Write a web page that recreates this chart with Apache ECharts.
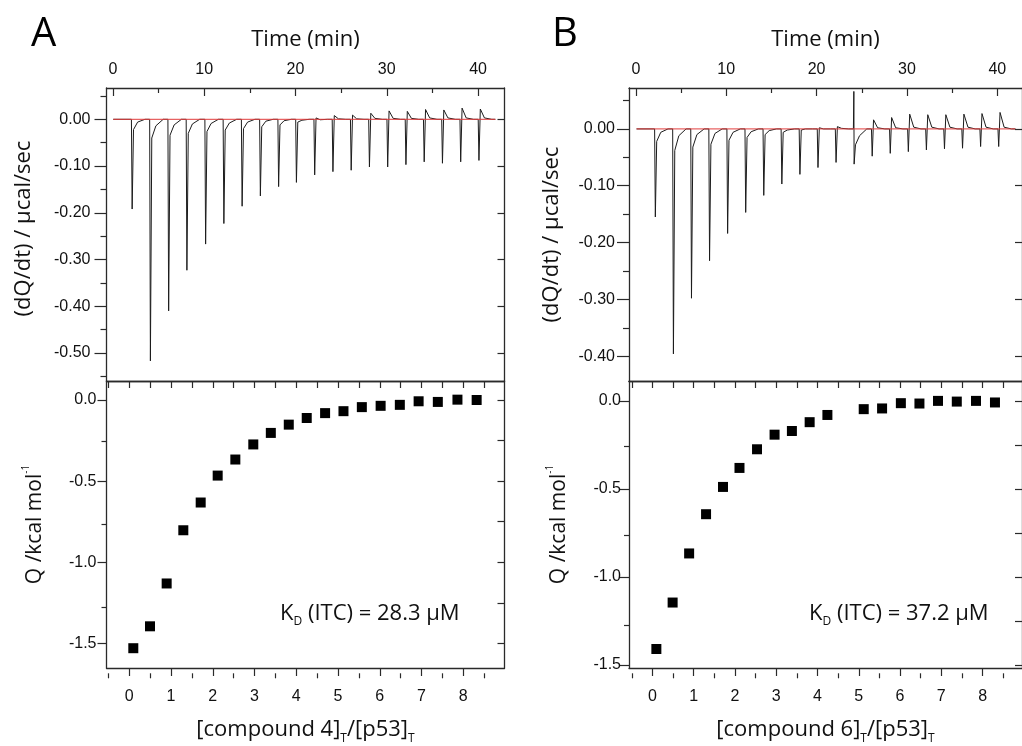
<!DOCTYPE html>
<html><head><meta charset="utf-8">
<script src="https://cdn.jsdelivr.net/npm/echarts@6/dist/echarts.min.js"></script>
<style>html,body{margin:0;padding:0;background:#fff}#c{width:1022px;height:746px}</style>
</head><body><div id="c"></div>
<script>
// ---------- DATA ----------
// Panel A thermogram: injection times (min) and heat-rate readings (µcal/sec)
const injTimeA = [2.1, 4.1, 6.1, 8.1, 10.15, 12.15, 14.15, 16.15, 18.15, 20.1, 22.1, 24.1, 26.1, 28.1, 30.1, 32.1, 34.1, 36.1, 38.1, 40.1];
const preA   = [0, 0, 0, 0, 0, 0, 0, 0, 0, 0, 0, 0, 0, 0, 0, 0, 0, 0, 0, 0];
const peakA  = [-0.192, -0.517, -0.410, -0.323, -0.267, -0.223, -0.186, -0.164, -0.144, -0.135, -0.119, -0.112, -0.109, -0.102, -0.102, -0.097, -0.091, -0.094, -0.091, -0.088];
const afterA = [-0.022, -0.040, -0.034, -0.030, -0.026, -0.023, -0.020, -0.016, -0.012, -0.006, 0.003, 0.008, 0.009, 0.013, 0.018, 0.017, 0.021, 0.020, 0.024, 0.022];
const tailA  = [-0.006, -0.014, -0.012, -0.010, -0.009, -0.008, -0.006, -0.004, -0.003, -0.002, -0.001, 0.001, 0.001, 0.002, 0.002, 0.002, 0.003, 0.003, 0.003, 0.003];
const baseA  = [0.03, 41.9];   // start / end time of recorded baseline

// Panel B thermogram
const injTimeB = [2.15, 4.15, 6.15, 8.15, 10.15, 12.15, 14.15, 16.15, 18.15, 20.15, 22.15, 24.15, 26.15, 28.15, 30.15, 32.15, 34.15, 36.15, 38.15, 40.15];
const preB   = [0, 0, 0, 0, 0, 0, 0, 0, 0, 0, 0, 0.066, 0, 0, 0, 0, 0, 0, 0, 0];
const peakB  = [-0.155, -0.396, -0.298, -0.232, -0.184, -0.147, -0.117, -0.097, -0.080, -0.068, -0.059, -0.062, -0.048, -0.043, -0.040, -0.037, -0.035, -0.034, -0.031, -0.031];
const afterB = [-0.022, -0.038, -0.032, -0.027, -0.020, -0.015, -0.010, -0.006, -0.002, 0.002, 0.004, -0.028, 0.016, 0.020, 0.026, 0.025, 0.025, 0.026, 0.027, 0.029];
const tailB  = [-0.006, -0.012, -0.010, -0.008, -0.006, -0.005, -0.003, -0.002, 0, 0, 0.001, -0.012, 0.002, 0.002, 0.003, 0.003, 0.003, 0.003, 0.003, 0.003];
const baseB  = [0.07, 42.0];

// Binding isotherms: molar ratio and heat per injection (kcal/mol)
const ratioA = [0.096, 0.496, 0.895, 1.294, 1.71, 2.117, 2.54, 2.97, 3.39, 3.82, 4.25, 4.69, 5.13, 5.57, 6.02, 6.48, 6.93, 7.39, 7.86, 8.32];
const qA     = [-1.530, -1.395, -1.131, -0.803, -0.632, -0.466, -0.367, -0.274, -0.203, -0.152, -0.111, -0.081, -0.069, -0.044, -0.036, -0.030, -0.008, -0.012, 0.002, 0.0];
const ratioB = [0.096, 0.49, 0.89, 1.30, 1.71, 2.11, 2.535, 2.96, 3.38, 3.81, 4.24, 5.12, 5.565, 6.02, 6.47, 6.92, 7.375, 7.84, 8.30];
const qB     = [-1.410, -1.146, -0.867, -0.644, -0.489, -0.381, -0.275, -0.192, -0.171, -0.121, -0.080, -0.047, -0.043, -0.013, -0.015, 0.0, -0.004, 0.0, -0.009];

// Tick values
const timeTicks  = [0, 10, 20, 30, 40];
const timeMinor  = [5, 15, 25, 35];
const ratioTicks = [0, 1, 2, 3, 4, 5, 6, 7, 8];
const ratioMinor = [-0.5, 0.5, 1.5, 2.5, 3.5, 4.5, 5.5, 6.5, 7.5, 8.5];
const dqTicksA   = [0, -0.1, -0.2, -0.3, -0.4, -0.5];
const dqMinorA   = [0.05, -0.05, -0.15, -0.25, -0.35, -0.45, -0.55];
const dqTicksB   = [0, -0.1, -0.2, -0.3, -0.4];
const dqMinorB   = [0.05, -0.05, -0.15, -0.25, -0.35];
const qTicks     = [0, -0.5, -1.0, -1.5];
const qMinor     = [-0.25, -0.75, -1.25];
const kdA = '28.3', kdB = '37.2';
const compA = '4', compB = '6';

// ---------- CHART ----------
const chart = echarts.init(document.getElementById('c'), null, {renderer: 'canvas', width: 1022, height: 746});
const INK = '#1c1c1c';
const LBL = {fontFamily: '"Liberation Sans", Arial, sans-serif', fontSize: 16, color: '#111'};
const TTL = '"Open Sans", sans-serif';
const AL = {show: true, onZero: false, lineStyle: {color: '#2a2a2a', width: 1.3}};
const grids = [], xAxes = [], yAxes = [], series = [], graphics = [];

function tick(vals, inside, len) {
  return {show: true, inside: inside, length: len, customValues: vals, lineStyle: {color: '#2a2a2a', width: 1.2}};
}
function grid(left, top, width, height) { grids.push({left, top, width, height}); return grids.length - 1; }
function axisBase(o) {
  return Object.assign({type: 'value', scale: true, splitLine: {show: false}, axisLine: {show: false, onZero: false},
    axisTick: {show: false}, axisLabel: {show: false}, z: 5}, o);
}
function xa(o) { xAxes.push(axisBase(o)); return xAxes.length - 1; }
function ya(o) { yAxes.push(axisBase(o)); return yAxes.length - 1; }

function buildTrace(times, pre, peak, after, tail, base) {
  const pts = [[base[0], 0]];
  for (let i = 0; i < times.length; i++) {
    const t = times[i];
    pts.push([t - 0.08, 0], [t - 0.03, pre[i]], [t, peak[i]], [t + 0.15, after[i]], [t + 0.6, tail[i]], [t + 1.4, 0]);
  }
  pts.push([base[1], 0]);
  return pts;
}

function panel(c) {
  const gT = grid(c.left, 88, c.width, 293);
  const gTo = grid(c.left, 88, c.width, 293);
  const gB = grid(c.left, 381, c.width, 292.3);
  const gBo = grid(c.left, 381, c.width, 292.3);

  // ----- top (thermogram) -----
  const xT = xa({gridIndex: gT, position: 'top', min: c.tMin, max: c.tMax, axisLine: AL,
    axisTick: tick(timeTicks, true, 8),
    axisLabel: Object.assign({show: true, customValues: timeTicks, margin: 10}, LBL),
    name: 'Time (min)', nameLocation: 'middle', nameGap: 37,
    nameTextStyle: {fontFamily: TTL, fontSize: 22, color: '#111'}});
  xa({gridIndex: gT, position: 'bottom', min: c.tMin, max: c.tMax, axisLine: AL});
  const yT = ya({gridIndex: gT, position: 'left', min: c.dqMin, max: c.dqMax, axisLine: AL,
    axisTick: tick(c.dqTicks, false, c.dqTickLen),
    axisLabel: Object.assign({show: true, customValues: c.dqTicks, margin: c.dqMargin, formatter: v => v.toFixed(2)}, LBL),
    name: '(dQ/dt) / µcal/sec', nameLocation: 'middle', nameGap: c.dqGap,
    nameTextStyle: {fontFamily: TTL, fontSize: 22, color: '#111', padding: c.dqPad}});
  ya({gridIndex: gT, position: 'right', min: c.dqMin, max: c.dqMax, axisLine: AL, axisTick: tick(c.dqTicks, true, 7)});
  // minor ticks overlay
  xa({gridIndex: gTo, position: 'top', min: c.tMin, max: c.tMax, axisTick: tick(timeMinor, true, 5)});
  ya({gridIndex: gTo, position: 'left', min: c.dqMin, max: c.dqMax, axisTick: tick(c.dqMinor, false, 6)});

  series.push({type: 'line', xAxisIndex: xT, yAxisIndex: yT, showSymbol: false, symbol: 'none',
    data: buildTrace(c.times, c.pre, c.peak, c.after, c.tail, c.base),
    lineStyle: {color: INK, width: 1}, z: 2, animation: false, silent: true});
  series.push({type: 'line', xAxisIndex: xT, yAxisIndex: yT, showSymbol: false, symbol: 'none',
    data: [[c.base[0], 0], [c.base[1], 0]],
    lineStyle: {color: '#e23b3b', width: 1}, z: 3, animation: false, silent: true});

  // ----- bottom (isotherm) -----
  const xB = xa({gridIndex: gB, position: 'bottom', min: c.rMin, max: c.rMax, axisLine: AL,
    axisTick: tick(ratioTicks, false, 8),
    axisLabel: Object.assign({show: true, customValues: ratioTicks, margin: 21}, LBL),
    name: '{n|[compound ' + c.comp + ']}{s|T}{n|/[p53]}{s|T}', nameLocation: 'middle', nameGap: 47,
    nameTextStyle: {rich: {
      n: {fontFamily: TTL, fontSize: 22, color: '#111', lineHeight: 30, verticalAlign: 'middle'},
      s: {fontFamily: TTL, fontSize: 12, color: '#111', lineHeight: 30, verticalAlign: 'bottom'}}}});
  xa({gridIndex: gB, position: 'top', min: c.rMin, max: c.rMax, axisLine: AL,
    axisTick: tick(ratioTicks.concat(ratioMinor), true, 7)});
  const yB = ya({gridIndex: gB, position: 'left', min: c.qMin, max: c.qMax, axisLine: AL,
    axisTick: tick(qTicks, false, 9),
    axisLabel: Object.assign({show: true, customValues: qTicks, margin: c.qMargin, formatter: v => v.toFixed(1)}, LBL),
    name: '{n|Q /kcal mol}{p|-1}', nameLocation: 'middle', nameGap: c.qGap,
    nameTextStyle: {rich: {
      n: {fontFamily: TTL, fontSize: 21, color: '#111', lineHeight: 28, verticalAlign: 'middle'},
      p: {fontFamily: TTL, fontSize: 10, color: '#111', lineHeight: 28, verticalAlign: 'top'}}}});
  ya({gridIndex: gB, position: 'right', min: c.qMin, max: c.qMax, axisLine: AL,
    axisTick: tick(qTicks.concat(qMinor), true, 7)});
  xa({gridIndex: gBo, position: 'bottom', min: c.rMin, max: c.rMax, axisTick: tick(ratioMinor, false, 5)});
  ya({gridIndex: gBo, position: 'left', min: c.qMin, max: c.qMax, axisTick: tick(qMinor, false, 5)});

  series.push({type: 'scatter', xAxisIndex: xB, yAxisIndex: yB, symbol: 'rect', symbolSize: 10,
    data: c.ratio.map((r, i) => [r, c.q[i]]), itemStyle: {color: '#000', opacity: 1}, animation: false, silent: true});

  graphics.push({type: 'text', left: c.letterX, top: 15, style: {text: c.letter, fontFamily: TTL, fontSize: 40, fill: '#000'}});
  graphics.push({type: 'text', left: c.kdX, top: 603, style: {
    text: '{k|K}{s|D}{k| (ITC) = ' + c.kd + ' µM}',
    rich: {k: {fontFamily: TTL, fontSize: 22, fill: '#111', lineHeight: 28, verticalAlign: 'middle'},
           s: {fontFamily: TTL, fontSize: 12, fill: '#111', lineHeight: 28, verticalAlign: 'bottom'}}}});
}

panel({left: 106.5, width: 398, tMin: -0.71, tMax: 42.9, dqMin: -0.560, dqMax: 0.067,
  dqTicks: dqTicksA, dqMinor: dqMinorA, dqTickLen: 12, dqMargin: 16, dqGap: 72, dqPad: [0, 0, 0, 12],
  rMin: -0.546, rMax: 8.987, qMin: -1.652, qMax: 0.117, qMargin: 10, qGap: 57,
  times: injTimeA, pre: preA, peak: peakA, after: afterA, tail: tailA, base: baseA,
  ratio: ratioA, q: qA, comp: compA, kd: kdA, letter: 'A', letterX: 31, kdX: 280});
panel({left: 629, width: 398, tMin: -0.765, tMax: 42.73, dqMin: -0.4437, dqMax: 0.072,
  dqTicks: dqTicksB, dqMinor: dqMinorB, dqTickLen: 12, dqMargin: 14, dqGap: 66, dqPad: 0,
  rMin: -0.567, rMax: 8.955, qMin: -1.518, qMax: 0.113, qMargin: 8, qGap: 56,
  times: injTimeB, pre: preB, peak: peakB, after: afterB, tail: tailB, base: baseB,
  ratio: ratioB, q: qB, comp: compB, kd: kdB, letter: 'B', letterX: 552, kdX: 809});

chart.setOption({animation: false, backgroundColor: '#fff', grid: grids, xAxis: xAxes, yAxis: yAxes,
  series: series, graphic: graphics});
</script></body></html>
